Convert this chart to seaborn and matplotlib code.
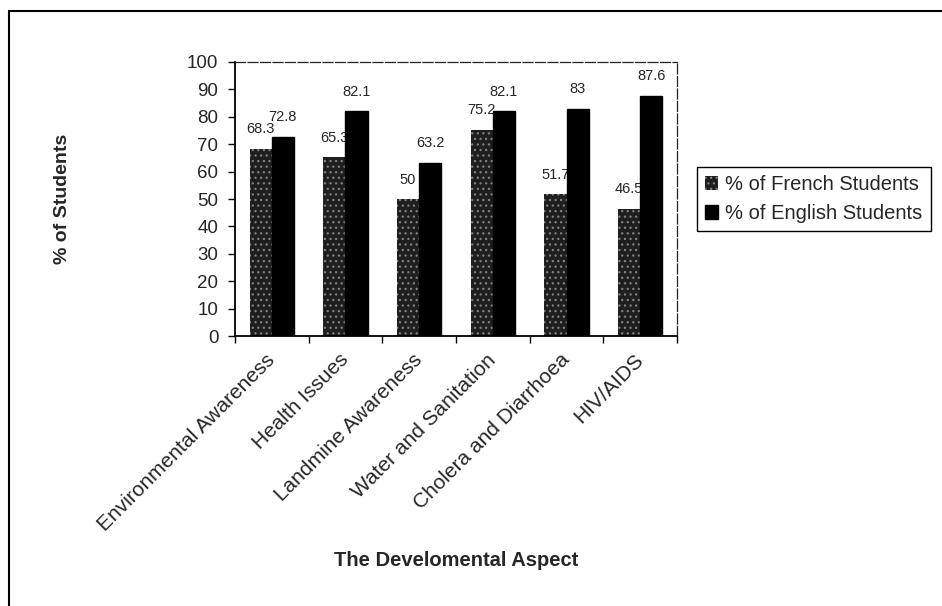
import matplotlib
matplotlib.use("Agg")
import matplotlib.pyplot as plt
import seaborn as sns
import pandas as pd
from matplotlib.patches import Patch
from matplotlib.lines import Line2D

aspects = ["Environmental Awareness", "Health Issues", "Landmine Awareness",
           "Water and Sanitation", "Cholera and Diarrhoea", "HIV/AIDS"]
french = [68.3, 65.3, 50, 75.2, 51.7, 46.5]
english = [72.8, 82.1, 63.2, 82.1, 83, 87.6]
series = ["% of French Students", "% of English Students"]
y_ticks = list(range(0, 101, 10))

sns.set_style("white")
plt.rcParams["font.family"] = ["Liberation Sans", "DejaVu Sans"]
plt.rcParams["hatch.linewidth"] = 0.9

df = pd.DataFrame({
    "aspect": aspects * 2,
    "pct": french + english,
    "group": [series[0]] * len(aspects) + [series[1]] * len(aspects),
})

fig = plt.figure(figsize=(9.42, 6.06), dpi=100)
ax = fig.add_axes([235 / 942, 1 - 336 / 606, 442 / 942, 274 / 606])

sns.barplot(data=df, x="aspect", y="pct", hue="group", order=aspects,
            hue_order=series, palette=["#2a2a2a", "#000000"], width=0.6,
            saturation=1, legend=False, ax=ax)

# speckled dark fill for the French series, solid black for the English one
fr_style = dict(facecolor="#1e1e1e", edgecolor="#808080", hatch="...", linewidth=0)
for bar in ax.containers[0]:
    bar.set(**fr_style)
    bar.set_zorder(2)
for bar in ax.containers[1]:
    bar.set_facecolor("black")
    bar.set_edgecolor("black")
    bar.set_zorder(3)

ax.bar_label(ax.containers[0], fmt="{:g}", padding=9, fontsize=10.5, zorder=2.5)
ax.bar_label(ax.containers[1], fmt="{:g}", padding=9, fontsize=10.5, zorder=4)

ax.set_ylim(0, 100)
ax.set_yticks(y_ticks)
ax.set_xlim(-0.5, len(aspects) - 0.5)
ax.set_xticks(range(len(aspects)))
ax.set_xticklabels(aspects, rotation=45, ha="right", va="center",
                   rotation_mode="anchor")
ax.set_xticks([i - 0.5 for i in range(len(aspects) + 1)], minor=True)
ax.tick_params(axis="x", which="major", length=0, pad=15, labelsize=15)
ax.tick_params(axis="x", which="minor", length=5, width=1, direction="out",
               color="black", bottom=True)
ax.tick_params(axis="y", length=5, width=1, direction="out", color="black",
               left=True, pad=7, labelsize=13.5)

for side in ("left", "bottom"):
    ax.spines[side].set_color("black")
    ax.spines[side].set_linewidth(1.3)
for side in ("top", "right"):
    ax.spines[side].set_color("#222222")
    ax.spines[side].set_linewidth(0.9)
    ax.spines[side].set_linestyle((0, (8, 2)))

ax.set_ylabel("% of Students", fontweight="bold", fontsize=14)
ax.yaxis.set_label_coords(-0.37, 0.5)
ax.set_xlabel("The Develomental Aspect", fontweight="bold", fontsize=14.5)
ax.xaxis.set_label_coords(0.5, -0.785)

handles = [Patch(**fr_style, label=series[0]),
           Patch(facecolor="black", edgecolor="black", label=series[1])]
fig.legend(handles=handles, loc="upper left",
           bbox_to_anchor=(697 / 942, 1 - 167 / 606), fontsize=14.5,
           frameon=True, fancybox=False, edgecolor="black", framealpha=1,
           handlelength=0.65, handleheight=0.65, handletextpad=0.35,
           labelspacing=0.5, borderpad=0.4, borderaxespad=0)

# page frame along the left and top edges
fig.add_artist(Line2D([9 / 942, 9 / 942], [0, 1 - 11 / 606], color="black", lw=1.5))
fig.add_artist(Line2D([9 / 942, 1], [1 - 11 / 606, 1 - 11 / 606], color="black", lw=1.5))

fig.savefig("out.png", dpi=100)
